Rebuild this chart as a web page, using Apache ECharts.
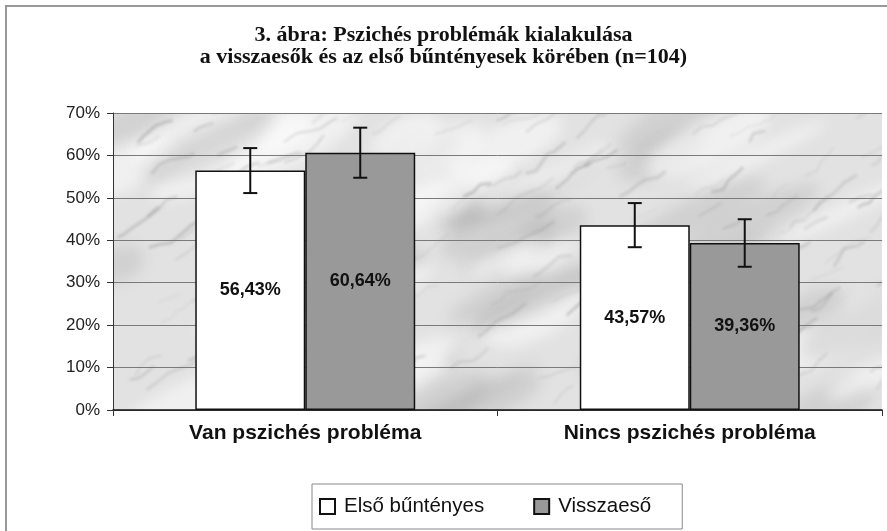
<!DOCTYPE html>
<html>
<head>
<meta charset="utf-8">
<script src="https://cdn.jsdelivr.net/npm/echarts@6/dist/echarts.min.js"></script>
<style>
  html, body { margin: 0; padding: 0; background: #fff; }
  #chart { width: 887px; height: 531px; }
</style>
</head>
<body>
<div id="chart"></div>
<script>
const titleText = '3. ábra: Pszichés problémák kialakulása\na visszaesők és az első bűntényesek körében (n=104)';
const categories = ['Van pszichés probléma', 'Nincs pszichés probléma'];
const seriesNames = ['Első bűntényes', 'Visszaeső'];
const firstOffenders = [56.43, 43.57];
const repeatOffenders = [60.64, 39.36];
// half-length of the error bars
const firstErrors = [5.3, 5.2];
const repeatErrors = [5.9, 5.6];
const yTicks = [0, 10, 20, 30, 40, 50, 60, 70];

const sans = '"Liberation Sans", Arial, sans-serif';
const BAR_SHARE = 0.286;

// grey marble-ish texture for the plot background (decoration only)
const makeMarble = (w, h) => {
  const c = document.createElement('canvas');
  c.width = w;
  c.height = h;
  const ctx = c.getContext('2d');
  ctx.fillStyle = '#e2e2e2';
  ctx.fillRect(0, 0, w, h);
  let seed = 11;
  const rnd = () => {
    seed = (seed * 16807) % 2147483647;
    return seed / 2147483647;
  };
  ctx.filter = 'blur(7px)';
  for (let i = 0; i < 60; i++) {
    ctx.fillStyle = rnd() > 0.45 ? 'rgba(250,250,250,0.6)' : 'rgba(150,150,150,0.22)';
    ctx.beginPath();
    ctx.ellipse(rnd() * w, rnd() * h, 25 + rnd() * 60, 8 + rnd() * 18, -0.45, 0, Math.PI * 2);
    ctx.fill();
  }
  ctx.filter = 'blur(1.4px)';
  for (let i = 0; i < 120; i++) {
    let x = rnd() * w;
    let y = rnd() * h;
    ctx.strokeStyle = 'rgba(110,110,110,' + (0.12 + rnd() * 0.3) + ')';
    ctx.lineWidth = 0.5 + rnd() * 2;
    ctx.beginPath();
    ctx.moveTo(x, y);
    const steps = 2 + Math.floor(rnd() * 5);
    for (let s = 0; s < steps; s++) {
      x += 4 + rnd() * 10;
      y -= 1 + rnd() * 9;
      ctx.lineTo(x, y);
    }
    ctx.stroke();
  }
  return c;
};

const chart = echarts.init(document.getElementById('chart'));

const grid = { left: 113, right: 5, top: 113, bottom: 121 };
const plotW = 887 - grid.left - grid.right;
const plotH = 531 - grid.top - grid.bottom;

const errorData = [];
firstOffenders.forEach((v, i) => errorData.push([i, v, firstErrors[i], 0]));
repeatOffenders.forEach((v, i) => errorData.push([i, v, repeatErrors[i], 1]));

const fmt = (v) => v.toFixed(2).replace('.', ',') + '%';

const barLabel = {
  show: true,
  position: 'inside',
  fontFamily: sans,
  fontWeight: 'bold',
  fontSize: 18,
  color: '#111',
  formatter: (p) => fmt(p.value),
};

const option = {
  animation: false,
  backgroundColor: '#fff',
  title: {
    text: titleText,
    left: 'center',
    top: 19,
    textStyle: {
      fontFamily: '"Liberation Serif", "Times New Roman", serif',
      fontWeight: 'bold',
      fontSize: 22,
      lineHeight: 22,
      color: '#111',
    },
  },
  graphic: [
    {
      type: 'image',
      z: -10,
      silent: true,
      style: { image: makeMarble(plotW, plotH), x: grid.left, y: grid.top, width: plotW, height: plotH },
    },
    {
      type: 'polyline',
      silent: true,
      shape: { points: [[6, 531], [6, 6], [887, 6]] },
      style: { stroke: '#999', lineWidth: 2, fill: null },
    },
  ],
  legend: {
    data: seriesNames,
    left: 312,
    top: 484,
    padding: [12, 31, 12, 7],
    itemGap: 49,
    itemWidth: 15,
    itemHeight: 15,
    icon: 'rect',
    borderColor: '#888',
    borderWidth: 1,
    textStyle: { fontFamily: sans, fontSize: 20.5, lineHeight: 20, color: '#111', padding: [0, 0, 0, 4] },
  },
  grid: grid,
  xAxis: {
    type: 'category',
    data: categories,
    axisLine: { lineStyle: { color: '#111', width: 1.5 } },
    axisTick: { show: true, length: 6, lineStyle: { color: '#333' } },
    axisLabel: { fontFamily: sans, fontWeight: 'bold', fontSize: 21, color: '#111', margin: 13 },
  },
  yAxis: {
    type: 'value',
    min: yTicks[0],
    max: yTicks[yTicks.length - 1],
    interval: 10,
    axisLine: { show: true, lineStyle: { color: '#333', width: 1 } },
    axisTick: { show: true, length: 6, lineStyle: { color: '#333' } },
    axisLabel: { fontFamily: sans, fontSize: 17, color: '#222', margin: 13, formatter: '{value}%' },
    splitLine: { lineStyle: { color: '#7a7a7a', width: 1 } },
  },
  series: [
    {
      name: seriesNames[0],
      type: 'bar',
      data: firstOffenders,
      barWidth: (BAR_SHARE * 100) + '%',
      barGap: '0%',
      itemStyle: { color: '#ffffff', borderColor: '#111', borderWidth: 1.5 },
      label: barLabel,
    },
    {
      name: seriesNames[1],
      type: 'bar',
      data: repeatOffenders,
      barWidth: (BAR_SHARE * 100) + '%',
      barGap: '0%',
      itemStyle: { color: '#999999', borderColor: '#111', borderWidth: 1.5 },
      label: barLabel,
    },
    {
      type: 'custom',
      z: 5,
      silent: true,
      data: errorData,
      renderItem: (params, api) => {
        const band = api.size([1, 0])[0];
        const half = (band * BAR_SHARE) / 2;
        const base = api.coord([api.value(0), 0])[0];
        const x = base + (api.value(3) === 0 ? -half : half);
        const v = api.value(1);
        const e = api.value(2);
        const yHi = api.coord([api.value(0), v + e])[1];
        const yLo = api.coord([api.value(0), v - e])[1];
        const cap = 7;
        const style = { stroke: '#111', lineWidth: 2 };
        return {
          type: 'group',
          children: [
            { type: 'line', shape: { x1: x, y1: yHi, x2: x, y2: yLo }, style },
            { type: 'line', shape: { x1: x - cap, y1: yHi, x2: x + cap, y2: yHi }, style },
            { type: 'line', shape: { x1: x - cap, y1: yLo, x2: x + cap, y2: yLo }, style },
          ],
        };
      },
    },
  ],
};

chart.setOption(option);
</script>
</body>
</html>
